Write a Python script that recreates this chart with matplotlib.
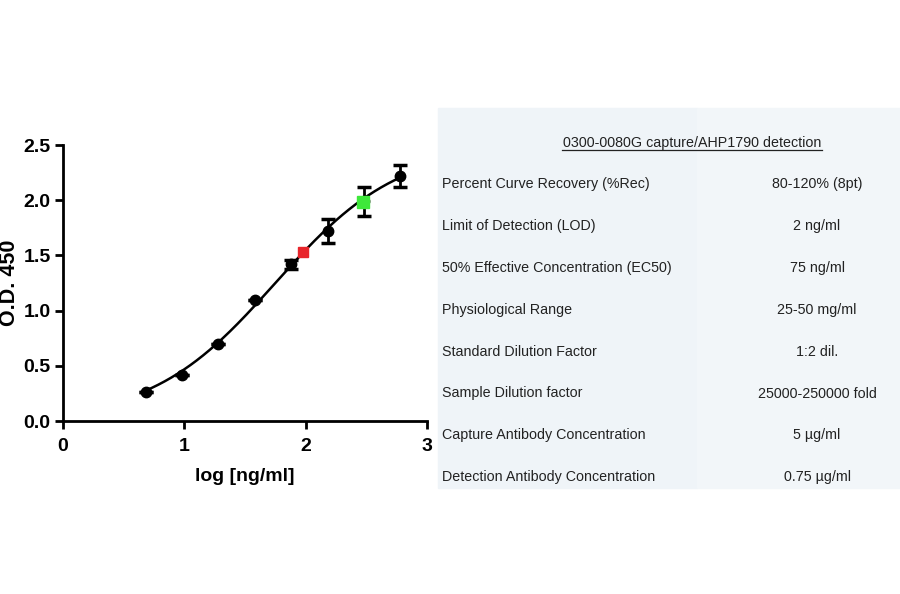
import matplotlib.pyplot as plt
import numpy as np

plt.rcParams['font.family'] = ['Liberation Sans', 'DejaVu Sans']

# standard curve data (log conc, OD450, SD)
log_conc = [0.68, 0.98, 1.28, 1.58, 1.88, 2.18, 2.48, 2.78]
od450 = [0.26, 0.42, 0.70, 1.10, 1.42, 1.72, 1.99, 2.22]
od_err = [0.0, 0.0, 0.0, 0.0, 0.04, 0.11, 0.13, 0.10]

# highlighted points
red_x, red_y = [1.98], [1.53]
green_x, green_y = [2.47], [1.98]

title = "0300-0080G capture/AHP1790 detection"
row_labels = ["Percent Curve Recovery (%Rec)",
              "Limit of Detection (LOD)",
              "50% Effective Concentration (EC50)",
              "Physiological Range",
              "Standard Dilution Factor",
              "Sample Dilution factor",
              "Capture Antibody Concentration",
              "Detection Antibody Concentration"]
row_values = ["80-120% (8pt)", "2 ng/ml", "75 ng/ml", "25-50 mg/ml",
              "1:2 dil.", "25000-250000 fold", "5 \u00b5g/ml", "0.75 \u00b5g/ml"]

# crude 4PL fit by grid search
xd = np.array(log_conc)
yd = np.array(od450)
B, T, C, H = np.meshgrid(np.linspace(0.0, 0.3, 16), np.linspace(2.2, 3.4, 25),
                         np.linspace(1.3, 2.3, 21), np.linspace(0.5, 1.6, 23),
                         indexing='ij')
pred = B[..., None] + (T - B)[..., None] / (1 + 10 ** ((C[..., None] - xd) * H[..., None]))
sse = ((pred - yd) ** 2).sum(axis=-1)
k = np.unravel_index(np.argmin(sse), sse.shape)
b, t, c, h = B[k], T[k], C[k], H[k]
xs = np.linspace(log_conc[0], log_conc[-1], 200)
ys = b + (t - b) / (1 + 10 ** ((c - xs) * h))

fig = plt.figure(figsize=(9, 5.94), dpi=100)
ax = fig.add_axes([63/900, 1 - 421/594, 364/900, 276/594])

ax.plot(xs, ys, color='black', lw=1.8, zorder=2)
ax.errorbar(log_conc, od450, yerr=od_err, fmt='o', color='black', ms=7.5,
            elinewidth=2, capsize=5, capthick=2.5, zorder=3)
ax.plot(red_x, red_y, 's', color='#e8252b', ms=7.5, zorder=4)
ax.plot(green_x, green_y, 's', color='#3ee83a', ms=8.5, zorder=4)

ax.set_xlim(0, 3)
ax.set_ylim(0, 2.5)
ax.set_xticks([0, 1, 2, 3])
ax.set_yticks([0, 0.5, 1.0, 1.5, 2.0, 2.5])
ax.set_yticklabels(["0.0", "0.5", "1.0", "1.5", "2.0", "2.5"])
ax.spines['top'].set_visible(False)
ax.spines['right'].set_visible(False)
ax.spines['left'].set_linewidth(2)
ax.spines['bottom'].set_linewidth(2)
ax.tick_params(width=2, length=6, labelsize=14, pad=3)
ax.tick_params(axis='x', pad=6)
for lab in ax.get_xticklabels() + ax.get_yticklabels():
    lab.set_fontweight('bold')
ax.set_xlabel("log [ng/ml]", fontsize=14, fontweight='bold')
ax.xaxis.set_label_coords(0.5, -0.172)
ax.set_ylabel("O.D. 450", fontsize=15.5, fontweight='bold')
ax.yaxis.set_label_coords(-0.118, 0.5)

# info table
fig.patches.append(plt.Rectangle((438/900, 1 - 488/594), 259/900, 380/594,
                                 transform=fig.transFigure, color='#eff4f8', zorder=0))
fig.patches.append(plt.Rectangle((697/900, 1 - 488/594), 203/900, 380/594,
                                 transform=fig.transFigure, color='#f2f6f9', zorder=0))
fig.text(692/900, 1 - 143/594, title, ha='center', va='center', fontsize=10.3,
         color='#222222')
fig.add_artist(plt.Line2D([562/900, 822/900], [1 - 150/594, 1 - 150/594],
                          color='#222222', lw=0.9))
for i in range(len(row_labels)):
    y = 1 - (184 + i * 41.9) / 594
    fig.text(442/900, y, row_labels[i], ha='left', va='center', fontsize=10.3, color='#222222')
    fig.text(817/900, y, row_values[i], ha='center', va='center', fontsize=10.3, color='#222222')

fig.savefig('out.png', dpi=100)
